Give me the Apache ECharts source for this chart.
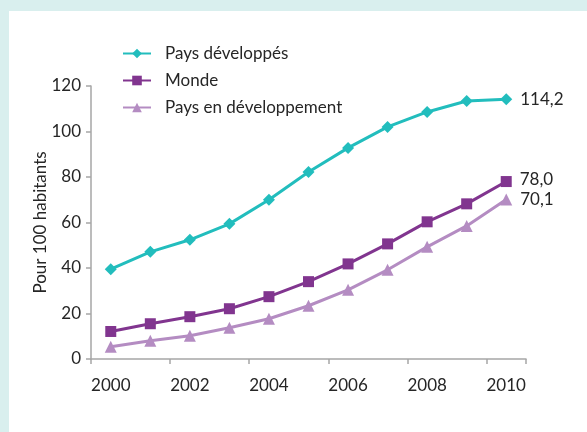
<!DOCTYPE html>
<html>
<head>
<meta charset="utf-8">
<script src="https://cdn.jsdelivr.net/npm/echarts@6/dist/echarts.min.js"></script>
<style>
	html, body { margin: 0; padding: 0; background: #d9efee; }
	#chart { position: absolute; left: 9px; top: 11px; width: 578px; height: 421px; background: #ffffff; }
</style>
</head>
<body>
<div id="chart"></div>
<script>
	// valeurs
	const annees = ['2000', '2001', '2002', '2003', '2004', '2005', '2006', '2007', '2008', '2009', '2010']
	const paysDeveloppes = [39.5, 47.1, 52.4, 59.4, 70.0, 82.2, 92.8, 102.0, 108.6, 113.4, 114.2]
	const monde = [12.1, 15.5, 18.6, 22.1, 27.4, 34.0, 41.8, 50.6, 60.3, 68.2, 78.0]
	const paysEnDev = [5.4, 8.0, 10.2, 13.7, 17.7, 23.4, 30.4, 39.2, 49.3, 58.5, 70.1]
	const yTicks = [0, 20, 40, 60, 80, 100, 120]

	const police = 'Lato, "Open Sans", sans-serif'

	function finLabel(data, dy) {
		return data.map(function (v, i) {
			if (i !== data.length - 1) return v
			return {
				value: v,
				label: {
					show: true,
					position: 'right',
					distance: 8,
					offset: [0, dy],
					color: '#262626',
					fontSize: 17,
					fontFamily: police,
					formatter: v.toFixed(1).replace('.', ',')
				}
			}
		})
	}

	let mychart = echarts.init(document.getElementById('chart'))
	let option = {
		animation: false,
		grid: { left: 82, right: 61, top: 75, bottom: 73 },
		legend: {
			orient: 'vertical',
			left: 108,
			top: 29,
			itemWidth: 28,
			itemHeight: 12,
			itemGap: 10,
			textStyle: { color: '#262626', fontSize: 17, fontFamily: police, padding: [0, 0, 0, 9] },
			data: ['Pays développés', 'Monde', 'Pays en développement']
		},
		xAxis: {
			type: 'category',
			data: annees,
			boundaryGap: true,
			axisLine: { lineStyle: { color: '#a6a6a6', width: 1.5 } },
			axisTick: { show: true, length: 5, inside: false, lineStyle: { color: '#a6a6a6', width: 1.5 } },
			axisLabel: { interval: 1, color: '#262626', fontSize: 17, fontFamily: police, margin: 18 },
			splitLine: { show: false }
		},
		yAxis: {
			type: 'value',
			min: yTicks[0],
			max: yTicks[yTicks.length - 1],
			interval: 20,
			name: 'Pour 100 habitants',
			nameLocation: 'middle',
			nameGap: 42,
			nameMoveOverlap: false,
			nameTextStyle: { color: '#262626', fontSize: 17, fontFamily: police },
			axisLine: { show: true, lineStyle: { color: '#a6a6a6', width: 1.5 } },
			axisTick: { show: true, length: 5, lineStyle: { color: '#a6a6a6', width: 1.5 } },
			axisLabel: { color: '#262626', fontSize: 17, fontFamily: police, margin: 10 },
			splitLine: { show: false }
		},
		series: [
			{
				name: 'Pays développés',
				type: 'line',
				data: finLabel(paysDeveloppes, 0),
				symbol: 'diamond',
				symbolSize: 12,
				lineStyle: { width: 3, color: '#22bdbd' },
				itemStyle: { color: '#22bdbd' }
			},
			{
				name: 'Monde',
				type: 'line',
				data: finLabel(monde, -2),
				symbol: 'rect',
				symbolSize: 11,
				lineStyle: { width: 3, color: '#81358f' },
				itemStyle: { color: '#81358f' }
			},
			{
				name: 'Pays en développement',
				type: 'line',
				data: finLabel(paysEnDev, 0),
				symbol: 'triangle',
				symbolSize: 12,
				lineStyle: { width: 3, color: '#b48cc2' },
				itemStyle: { color: '#b48cc2' }
			}
		]
	}
	mychart.setOption(option)
</script>
</body>
</html>
